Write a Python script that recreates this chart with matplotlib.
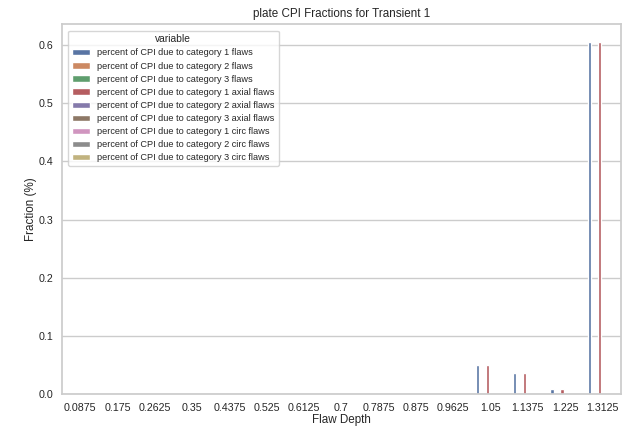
import matplotlib
matplotlib.use("Agg")
import matplotlib.pyplot as plt
import pandas as pd
import seaborn as sns

flaw_depths = ["0.0875", "0.175", "0.2625", "0.35", "0.4375", "0.525", "0.6125",
               "0.7", "0.7875", "0.875", "0.9625", "1.05", "1.1375", "1.225", "1.3125"]
zeros = [0.0] * 11

cat1 = zeros + [0.051, 0.036, 0.0087, 0.605]
cat2 = [0.0] * 15
cat3 = [0.0] * 15
cat1_axial = zeros + [0.051, 0.036, 0.0087, 0.605]
cat2_axial = [0.0] * 15
cat3_axial = [0.0] * 15
cat1_circ = [0.0] * 15
cat2_circ = [0.0] * 15
cat3_circ = [0.0] * 15

df = pd.DataFrame({
    "Flaw Depth": flaw_depths,
    "percent of CPI due to category 1 flaws": cat1,
    "percent of CPI due to category 2 flaws": cat2,
    "percent of CPI due to category 3 flaws": cat3,
    "percent of CPI due to category 1 axial flaws": cat1_axial,
    "percent of CPI due to category 2 axial flaws": cat2_axial,
    "percent of CPI due to category 3 axial flaws": cat3_axial,
    "percent of CPI due to category 1 circ flaws": cat1_circ,
    "percent of CPI due to category 2 circ flaws": cat2_circ,
    "percent of CPI due to category 3 circ flaws": cat3_circ,
})
long_df = df.melt(id_vars="Flaw Depth")

sns.set_theme(style="whitegrid", font_scale=0.7)
plt.rcParams["font.family"] = ["Liberation Sans", "DejaVu Sans"]

fig, ax = plt.subplots(figsize=(6.41, 4.33), dpi=100)
sns.barplot(data=long_df, x="Flaw Depth", y="value", hue="variable", ax=ax)
ax.tick_params(axis="both", length=0, pad=6)
ax.set_ylabel("Fraction (%)", labelpad=1)
ax.set_xlabel("Flaw Depth", labelpad=1)
ax.set_title("plate CPI Fractions for Transient 1", pad=5)
ax.legend(title="variable", loc="upper left", fontsize=6.6, title_fontsize=7.4,
          labelspacing=0.45, borderaxespad=0.7)

fig.subplots_adjust(left=0.0963, right=0.969, top=0.944, bottom=0.0894)
fig.savefig("out.png", dpi=100)
